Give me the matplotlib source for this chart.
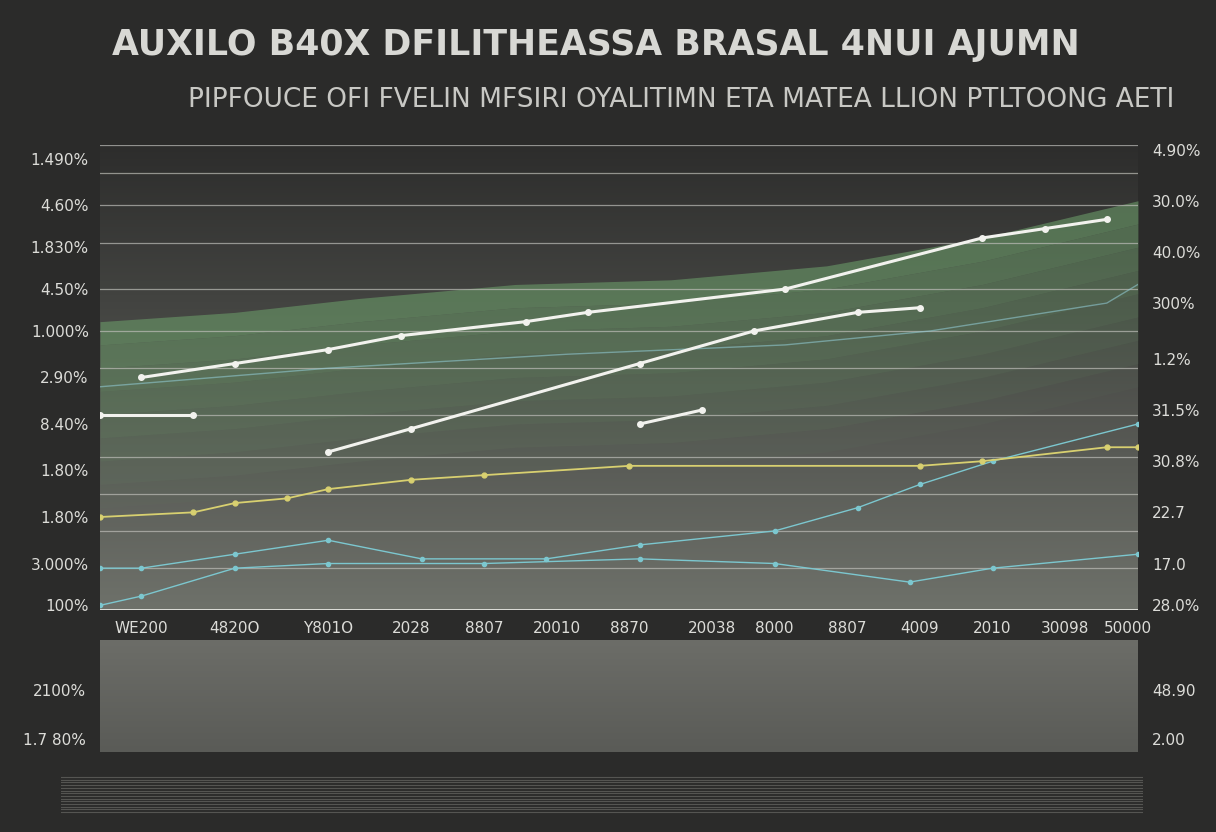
import numpy as np
import matplotlib.pyplot as plt

# x in % of axis width, y in % of axis height
x_ticks = [4, 13, 22, 30, 37, 44, 51, 59, 65, 72, 79, 86, 93, 99]
x_labels = ["WE200", "4820O", "Y801O", "2028", "8807", "20010", "8870",
            "20038", "8000", "8807", "4009", "2010", "30098", "50000"]
left_pos = [97, 87, 78, 69, 60, 50, 40, 30, 20, 10, 1]
left_labels = ["1.490%", "4.60%", "1.830%", "4.50%", "1.000%", "2.90%",
               "8.40%", "1.80%", "1.80%", "3.000%", "100%"]
right_pos = [99, 88, 77, 66, 54, 43, 32, 21, 10, 1]
right_labels = ["4.90%", "30.0%", "40.0%", "300%", "1.2%", "31.5%",
                "30.8%", "22.7", "17.0", "28.0%"]

white1_x = [4, 13, 22, 29, 41, 47, 66, 85, 91, 97]
white1_y = [50, 53, 56, 59, 62, 64, 69, 80, 82, 84]
white2_x = [22, 30, 52, 63, 73, 79]
white2_y = [34, 39, 53, 60, 64, 65]
white3_x = [0, 9]
white3_y = [42, 42]
white4_x = [52, 58]
white4_y = [40, 43]
yellow_x = [0, 9, 13, 18, 22, 30, 37, 51, 79, 85, 97, 100]
yellow_y = [20, 21, 23, 24, 26, 28, 29, 31, 31, 32, 35, 35]
cyan1_x = [0, 4, 13, 22, 31, 43, 52, 65, 73, 79, 86, 100]
cyan1_y = [9, 9, 12, 15, 11, 11, 14, 17, 22, 27, 32, 40]
cyan2_x = [0, 4, 13, 22, 37, 52, 65, 78, 86, 100]
cyan2_y = [1, 3, 9, 10, 10, 11, 10, 6, 9, 12]
cyan3_x = [0, 22, 45, 66, 80, 97, 100]
cyan3_y = [48, 52, 55, 57, 60, 66, 70]
green_top_x = [0, 13, 25, 40, 55, 70, 85, 100]
green_top_y = [62, 64, 67, 70, 71, 74, 80, 88]

bg = "#2b2b2a"
fig = plt.figure(figsize=(12.16, 8.32), dpi=100, facecolor=bg)
fig.text(0.49, 0.946, "AUXILO B40X DFILITHEASSA BRASAL 4NUI AJUMN", ha="center", va="center",
         color="#d8d8d4", fontsize=25, fontweight="bold", family="Liberation Sans Narrow")
fig.text(0.56, 0.88, "PIPFOUCE OFI FVELIN MFSIRI OYALITIMN ETA MATEA LLION PTLTOONG AETI",
         ha="center", va="center", color="#c8c8c4", fontsize=19, family="Liberation Sans Narrow")

ax = fig.add_axes([0.0822, 0.2668, 0.8536, 0.559])
ax.set_xlim(0, 100)
ax.set_ylim(0, 100)
grad = np.linspace(0, 1, 256).reshape(-1, 1)
ax.imshow(grad, extent=[0, 100, 0, 100], aspect="auto", origin="upper",
          cmap=plt.matplotlib.colors.LinearSegmentedColormap.from_list("g", ["#2d2d2c", "#6e716a"]),
          zorder=0)
gx = np.array(green_top_x, float)
gy = np.array(green_top_y, float)
for i, a in enumerate(np.linspace(0.6, 0.05, 8)):
    ax.fill_between(gx, gy - i * 5, gy - (i + 1) * 5, color="#6a9a68", alpha=a, lw=0, zorder=1)

for yv in [100, 94, 87, 79, 69, 60, 52, 42, 33, 25, 17, 9]:
    ax.axhline(yv, color="#bdbdb8", lw=0.9, alpha=0.7, zorder=2)

ax.plot(cyan3_x, cyan3_y, color="#8fc8d0", lw=1, alpha=0.6, zorder=3)
ax.plot(cyan2_x, cyan2_y, color="#7cc7cf", lw=1, marker="o", ms=3, zorder=3)
ax.plot(cyan1_x, cyan1_y, color="#7cc7cf", lw=1, marker="o", ms=3, zorder=3)
ax.plot(yellow_x, yellow_y, color="#d8d070", lw=1.3, marker="o", ms=3.5, zorder=4)
for xs, ys in [(white1_x, white1_y), (white2_x, white2_y), (white3_x, white3_y), (white4_x, white4_y)]:
    ax.plot(xs, ys, color="#f2f2ee", lw=2.2, marker="o", ms=4, zorder=5)
ax.axhline(0, color="#e8e8e4", lw=2, zorder=6)

ax.set_xticks(x_ticks)
ax.set_xticklabels(x_labels, color="#dcdcd8", fontsize=11)
ax.set_yticks(left_pos)
ax.set_yticklabels(left_labels, color="#dcdcd8", fontsize=11)
ax.tick_params(length=0, pad=8)
for s in ax.spines.values():
    s.set_visible(False)
ax2 = ax.twinx()
ax2.set_ylim(0, 100)
ax2.set_yticks(right_pos)
ax2.set_yticklabels(right_labels, color="#dcdcd8", fontsize=11)
ax2.tick_params(length=0, pad=10)
for s in ax2.spines.values():
    s.set_visible(False)

lo = fig.add_axes([0.0822, 0.0962, 0.8536, 0.1346])
lo.imshow(grad, extent=[0, 1, 0, 1], aspect="auto", origin="upper",
          cmap=plt.matplotlib.colors.LinearSegmentedColormap.from_list("l", ["#6c6d68", "#5a5b57"]))
lo.set_xlim(0, 1)
lo.set_ylim(0, 1)
lo.set_xticks([])
lo.set_yticks([0.55, 0.12])
lo.set_yticklabels(["2100%", "1.7 80%"], color="#dcdcd8", fontsize=11)
lo.tick_params(length=0, pad=10)
lo2 = lo.twinx()
lo2.set_ylim(0, 1)
lo2.set_yticks([0.55, 0.12])
lo2.set_yticklabels(["48.90", "2.00"], color="#dcdcd8", fontsize=11)
lo2.tick_params(length=0, pad=10)
for a in (lo, lo2):
    for s in a.spines.values():
        s.set_visible(False)

st = fig.add_axes([0.05, 0.01, 0.89, 0.07])
st.set_facecolor(bg)
for yv in np.linspace(0.2, 0.8, 14):
    st.axhline(yv, color="#555552", lw=0.8)
st.set_xticks([])
st.set_yticks([])
for s in st.spines.values():
    s.set_visible(False)

fig.savefig("out.png", dpi=100, facecolor=bg)
